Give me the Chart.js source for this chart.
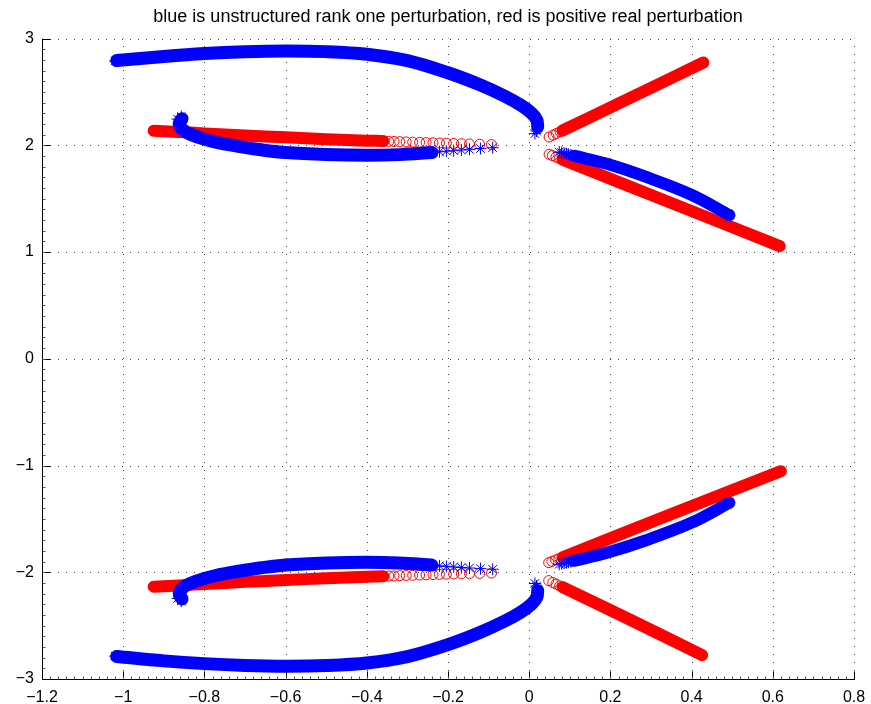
<!DOCTYPE html>
<html>
<head>
<meta charset="utf-8">
<script src="https://cdn.jsdelivr.net/npm/chart.js@4.4.1/dist/chart.umd.min.js"></script>
<style>
  html, body { margin: 0; padding: 0; background: #ffffff; }
  #wrap { width: 871px; height: 704px; position: relative; }
</style>
</head>
<body>
<div id="wrap"><canvas id="c" width="871" height="704"></canvas></div>
<script>
// ---------- tick labels ----------
const xTickValues = [-1.2, -1, -0.8, -0.6, -0.4, -0.2, 0, 0.2, 0.4, 0.6, 0.8];
const xTickLabels = ['\u22121.2', '\u22121', '\u22120.8', '\u22120.6', '\u22120.4', '\u22120.2', '0', '0.2', '0.4', '0.6', '0.8'];
const yTickValues = [-3, -2, -1, 0, 1, 2, 3];
const yTickLabels = ['\u22123', '\u22122', '\u22121', '0', '1', '2', '3'];

const titleText = 'blue is unstructured rank one perturbation, red is positive real perturbation';

// ---------- blue: unstructured rank one perturbation (upper half) ----------
const blueOuterUpper = [[-1.016, 2.795], [-0.90, 2.833], [-0.80, 2.86], [-0.70, 2.877], [-0.60, 2.884], [-0.50, 2.878], [-0.40, 2.854], [-0.30, 2.794], [-0.20, 2.68], [-0.12, 2.565], [-0.06, 2.46], [-0.02, 2.375], [0.006, 2.3], [0.019, 2.235], [0.021, 2.175]];
const blueHookUpper = [[-0.855, 2.25], [-0.862, 2.20], [-0.848, 2.13], [-0.814, 2.075], [-0.772, 2.03], [-0.72, 1.993], [-0.66, 1.958], [-0.60, 1.932], [-0.50, 1.913], [-0.40, 1.906], [-0.32, 1.913], [-0.24, 1.932]];
const blueRightUpper = [[0.11, 1.903], [0.189, 1.829], [0.288, 1.704], [0.402, 1.533], [0.493, 1.346]];
const blueStarsUpper = [[-1.02, 2.79], [0.014, 2.11], [0.018, 2.135], [0.02, 2.155], [-0.857, 2.27], [-0.866, 2.245], [-0.237, 1.936], [-0.221, 1.94], [-0.204, 1.945], [-0.186, 1.95], [-0.167, 1.956], [-0.147, 1.962], [-0.12, 1.97], [-0.09, 1.978], [0.074, 1.937], [0.08, 1.932], [0.086, 1.926], [0.092, 1.92], [0.097, 1.915], [0.103, 1.91], [0.493, 1.346], [0.488, 1.36]];

// ---------- blue (lower half) ----------
const blueOuterLower = [[-1.016, -2.79], [-0.90, -2.83], [-0.80, -2.856], [-0.70, -2.873], [-0.60, -2.88], [-0.50, -2.874], [-0.40, -2.85], [-0.30, -2.79], [-0.20, -2.678], [-0.12, -2.562], [-0.06, -2.457], [-0.02, -2.372], [0.006, -2.297], [0.019, -2.232], [0.021, -2.172]];
const blueHookLower = [[-0.855, -2.25], [-0.862, -2.20], [-0.848, -2.13], [-0.814, -2.075], [-0.772, -2.03], [-0.72, -1.993], [-0.66, -1.958], [-0.60, -1.932], [-0.50, -1.913], [-0.40, -1.906], [-0.32, -1.913], [-0.24, -1.932]];
const blueRightLower = [[0.11, -1.893], [0.189, -1.82], [0.288, -1.70], [0.402, -1.532], [0.493, -1.349]];
const blueStarsLower = [[-1.02, -2.785], [0.014, -2.105], [0.018, -2.13], [0.02, -2.15], [-0.857, -2.27], [-0.866, -2.245], [-0.237, -1.936], [-0.221, -1.94], [-0.204, -1.945], [-0.186, -1.95], [-0.167, -1.955], [-0.147, -1.96], [-0.12, -1.966], [-0.09, -1.972], [0.074, -1.925], [0.08, -1.92], [0.086, -1.915], [0.092, -1.91], [0.097, -1.905], [0.103, -1.9], [0.493, -1.349], [0.488, -1.362]];

// ---------- red: positive real perturbation (upper half) ----------
const redInnerUpper = [[-0.925, 2.137], [-0.85, 2.123], [-0.80, 2.112], [-0.70, 2.092], [-0.60, 2.075], [-0.50, 2.058], [-0.40, 2.044], [-0.36, 2.04]];
const redUpUpper = [[0.082, 2.139], [0.25, 2.447], [0.429, 2.776]];
const redDownUpper = [[0.082, 1.866], [0.35, 1.46], [0.617, 1.056]];
const redCirclesUpper = [[-0.358, 2.039], [-0.346, 2.037], [-0.333, 2.036], [-0.319, 2.034], [-0.303, 2.032], [-0.287, 2.03], [-0.270, 2.028], [-0.254, 2.026], [-0.237, 2.024], [-0.221, 2.022], [-0.204, 2.02], [-0.186, 2.018], [-0.167, 2.015], [-0.147, 2.013], [-0.122, 2.01], [-0.093, 2.007], [0.049, 2.078], [0.059, 2.096], [0.067, 2.111], [0.076, 2.128], [0.049, 1.916], [0.057, 1.904], [0.066, 1.890], [0.074, 1.878]];

// ---------- red (lower half) ----------
const redInnerLower = [[-0.925, -2.135], [-0.85, -2.121], [-0.80, -2.11], [-0.70, -2.09], [-0.60, -2.073], [-0.50, -2.056], [-0.40, -2.042], [-0.36, -2.038]];
const redUpLower = [[0.082, -1.86], [0.35, -1.455], [0.62, -1.053]];
const redDownLower = [[0.082, -2.139], [0.25, -2.447], [0.426, -2.776]];
const redCirclesLower = [[-0.358, -2.037], [-0.346, -2.035], [-0.333, -2.034], [-0.319, -2.032], [-0.303, -2.03], [-0.287, -2.028], [-0.270, -2.026], [-0.254, -2.024], [-0.237, -2.022], [-0.221, -2.02], [-0.204, -2.018], [-0.186, -2.016], [-0.167, -2.014], [-0.147, -2.012], [-0.122, -2.01], [-0.093, -2.008], [0.048, -2.078], [0.058, -2.096], [0.066, -2.111], [0.075, -2.128], [0.048, -1.91], [0.056, -1.898], [0.065, -1.885], [0.073, -1.873]];

// ---------- styling ----------
const BLUE = '#0000ff';
const RED = '#ff0000';
const toPts = arr => arr.map(p => ({ x: p[0], y: p[1] }));

function band(arr, color, width, order) {
  return {
    data: toPts(arr), showLine: true, borderColor: color, backgroundColor: color,
    borderWidth: width, borderCapStyle: 'round', borderJoinStyle: 'round', tension: 0.35,
    pointRadius: 0, pointHoverRadius: 0, order: order
  };
}
function markers(arr, color, style, radius, order) {
  return {
    data: toPts(arr), showLine: false, borderColor: color, backgroundColor: 'rgba(0,0,0,0)',
    pointStyle: style, pointRadius: radius, pointBorderWidth: 1, pointHoverRadius: radius, order: order
  };
}

const datasets = [
  band(blueOuterUpper, BLUE, 13, 1), band(blueHookUpper, BLUE, 13, 1), band(blueRightUpper, BLUE, 12, 1),
  band(blueOuterLower, BLUE, 13, 1), band(blueHookLower, BLUE, 13, 1), band(blueRightLower, BLUE, 12, 1),
  markers(blueStarsUpper, BLUE, 'star', 6, 0), markers(blueStarsLower, BLUE, 'star', 6, 0),
  band(redInnerUpper, RED, 12, 3), band(redUpUpper, RED, 12, 3), band(redDownUpper, RED, 12, 3),
  band(redInnerLower, RED, 12, 3), band(redUpLower, RED, 12, 3), band(redDownLower, RED, 12, 3),
  markers(redCirclesUpper, RED, 'circle', 5, 2), markers(redCirclesLower, RED, 'circle', 5, 2)
];

// MATLAB-like dotted grid, inward ticks, left/bottom axis lines
const matlabAxes = {
  id: 'matlabAxes',
  beforeDatasetsDraw(chart) {
    const { ctx, chartArea: a, scales: { x, y } } = chart;
    ctx.save();
    ctx.strokeStyle = '#404040';
    ctx.lineWidth = 1;
    ctx.setLineDash([1, 7]);
    xTickValues.forEach(v => {
      const px = Math.round(x.getPixelForValue(v)) + 0.5;
      ctx.beginPath(); ctx.moveTo(px, a.bottom); ctx.lineTo(px, a.top); ctx.stroke();
    });
    yTickValues.forEach(v => {
      const py = Math.round(y.getPixelForValue(v)) + 0.5;
      ctx.beginPath(); ctx.moveTo(a.left, py); ctx.lineTo(a.right, py); ctx.stroke();
    });
    ctx.restore();
  },
  afterDatasetsDraw(chart) {
    const { ctx, chartArea: a, scales: { x, y } } = chart;
    const L = Math.round(a.left) + 0.5, B = Math.round(a.bottom) + 0.5;
    ctx.save();
    ctx.strokeStyle = '#000000';
    ctx.lineWidth = 1;
    ctx.beginPath(); ctx.moveTo(L, Math.round(a.top)); ctx.lineTo(L, B); ctx.lineTo(Math.round(a.right) + 1, B); ctx.stroke();
    // major ticks (inward)
    xTickValues.forEach(v => {
      const px = Math.round(x.getPixelForValue(v)) + 0.5;
      ctx.beginPath(); ctx.moveTo(px, B); ctx.lineTo(px, B - 8); ctx.stroke();
    });
    yTickValues.forEach(v => {
      const py = Math.round(y.getPixelForValue(v)) + 0.5;
      ctx.beginPath(); ctx.moveTo(L, py); ctx.lineTo(L + 8, py); ctx.stroke();
    });
    // minor ticks
    ctx.strokeStyle = '#555555';
    for (let i = 1; i < 100; i++) {
      const px = Math.round(x.getPixelForValue(-1.2 + i * 0.02)) + 0.5;
      ctx.beginPath(); ctx.moveTo(px, B); ctx.lineTo(px, B - 3); ctx.stroke();
    }
    for (let i = 1; i < 60; i++) {
      const py = Math.round(y.getPixelForValue(-3 + i * 0.1)) + 0.5;
      ctx.beginPath(); ctx.moveTo(L, py); ctx.lineTo(L + 3, py); ctx.stroke();
    }
    ctx.restore();
  }
};

Chart.defaults.font.family = '"Liberation Sans", Arial, Helvetica, sans-serif';
Chart.defaults.color = '#000000';

new Chart(document.getElementById('c'), {
  type: 'scatter',
  data: { datasets },
  options: {
    responsive: false,
    animation: false,
    events: [],
    layout: { padding: { left: 0, right: 17, top: 0, bottom: 0 } },
    plugins: {
      legend: { display: false },
      tooltip: { enabled: false },
      title: {
        display: true, text: titleText, fullSize: false, color: '#000000',
        font: { size: 18, weight: 'normal' }, padding: { top: 6, bottom: 11 }
      }
    },
    scales: {
      x: {
        type: 'linear', min: -1.2, max: 0.8,
        grid: { display: false, drawTicks: false },
        border: { display: false },
        afterBuildTicks: s => { s.ticks = xTickValues.map(v => ({ value: v })); },
        afterFit: s => { s.height = 25; s.paddingLeft = 0; s.paddingRight = 0; },
        ticks: {
          autoSkip: false, maxRotation: 0, padding: 9, font: { size: 16 },
          callback: (val, i) => xTickLabels[i]
        }
      },
      y: {
        type: 'linear', min: -3, max: 3,
        grid: { display: false, drawTicks: false },
        border: { display: false },
        afterBuildTicks: s => { s.ticks = yTickValues.map(v => ({ value: v })); },
        afterFit: s => { s.width = 42; s.paddingTop = 0; s.paddingBottom = 0; },
        ticks: {
          autoSkip: false, padding: 8, font: { size: 16 },
          callback: (val, i) => yTickLabels[i]
        }
      }
    }
  },
  plugins: [matlabAxes]
});
</script>
</body>
</html>
